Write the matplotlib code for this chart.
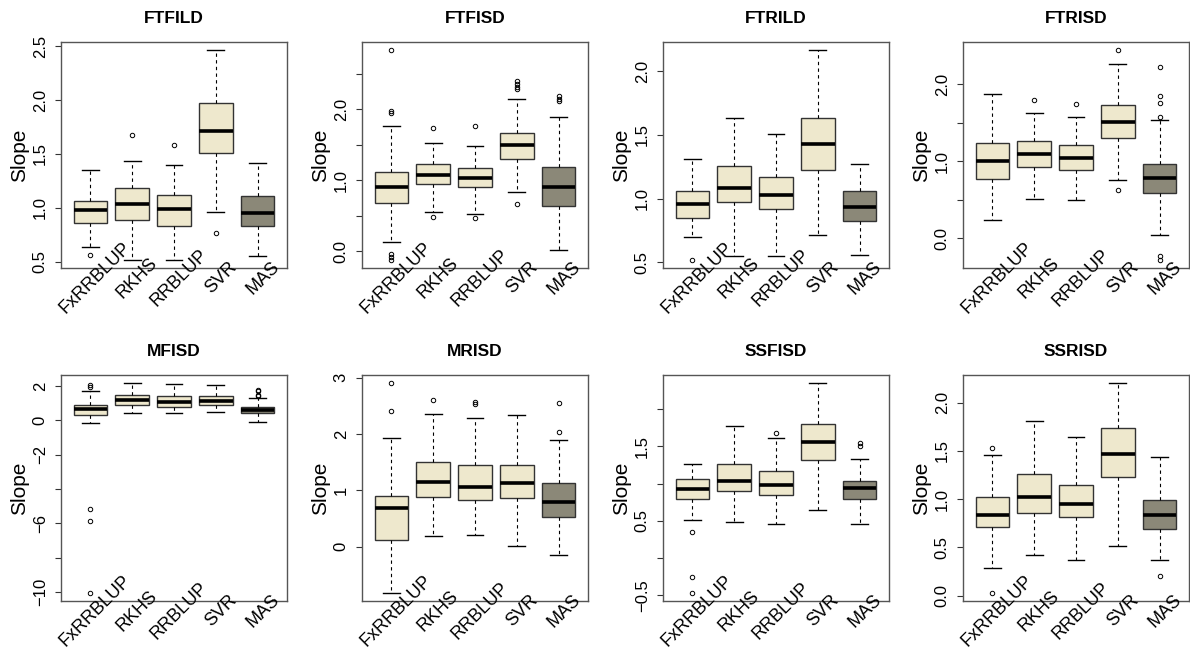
import matplotlib.pyplot as plt
from matplotlib.transforms import blended_transform_factory, ScaledTranslation

plt.rcParams['font.family'] = ['Liberation Sans', 'DejaVu Sans']

methods = ['FxRRBLUP', 'RKHS', 'RRBLUP', 'SVR', 'MAS']
fills = ['#EEE8CD', '#EEE8CD', '#EEE8CD', '#EEE8CD', '#8B8878']

# box stats per method: (lower whisker, q1, median, q3, upper whisker)
FTFILD_box = [(0.64, 0.86, 0.98, 1.06, 1.35), (0.52, 0.89, 1.04, 1.18, 1.43),
              (0.52, 0.83, 0.99, 1.12, 1.40), (0.96, 1.51, 1.71, 1.97, 2.46),
              (0.55, 0.83, 0.955, 1.11, 1.42)]
FTFILD_out = [[0.56], [1.68], [1.58], [0.77], []]

FTFISD_box = [(0.13, 0.68, 0.91, 1.12, 1.76), (0.55, 0.94, 1.08, 1.23, 1.53),
              (0.53, 0.90, 1.03, 1.17, 1.48), (0.83, 1.30, 1.50, 1.67, 2.15),
              (0.01, 0.63, 0.90, 1.18, 1.89)]
FTFISD_out = [[2.83, 1.97, 1.95, -0.04, -0.08, -0.12], [1.73, 0.48], [1.77, 0.47],
              [2.40, 2.36, 2.32, 2.28, 0.66], [2.19, 2.15, 2.12]]

FTRILD_box = [(0.70, 0.85, 0.96, 1.06, 1.31), (0.545, 0.97, 1.08, 1.255, 1.63),
              (0.545, 0.92, 1.03, 1.17, 1.51), (0.715, 1.225, 1.43, 1.63, 2.165),
              (0.555, 0.82, 0.93, 1.06, 1.27)]
FTRILD_out = [[0.52], [], [], [], []]

FTRISD_box = [(0.24, 0.77, 1.00, 1.24, 1.87), (0.51, 0.92, 1.09, 1.26, 1.63),
              (0.50, 0.89, 1.045, 1.21, 1.57), (0.76, 1.30, 1.51, 1.73, 2.26),
              (0.04, 0.58, 0.78, 0.96, 1.53)]
FTRISD_out = [[], [1.80], [1.74], [2.44, 0.63], [2.22, 1.85, 1.76, 1.57, -0.23, -0.28]]

MFISD_box = [(-0.14, 0.31, 0.64, 0.89, 1.69), (0.41, 0.89, 1.19, 1.48, 2.16),
             (0.43, 0.80, 1.09, 1.42, 2.14), (0.49, 0.87, 1.11, 1.42, 2.08),
             (-0.12, 0.41, 0.60, 0.80, 1.30)]
MFISD_out = [[2.08, 1.96, -5.17, -5.89, -10.04], [], [], [], [1.79, 1.71, 1.46, 1.40]]

MRISD_box = [(-0.82, 0.12, 0.68, 0.90, 1.92), (0.18, 0.88, 1.155, 1.51, 2.36),
             (0.20, 0.82, 1.06, 1.445, 2.28), (0.01, 0.855, 1.125, 1.44, 2.33),
             (-0.15, 0.53, 0.79, 1.125, 1.90)]
MRISD_out = [[2.90, 2.41], [2.60], [2.56, 2.53], [], [2.55, 2.03]]

SSFISD_box = [(0.51, 0.79, 0.92, 1.055, 1.26), (0.49, 0.90, 1.04, 1.26, 1.77),
              (0.46, 0.85, 0.975, 1.17, 1.615), (0.65, 1.315, 1.555, 1.80, 2.345),
              (0.46, 0.79, 0.945, 1.035, 1.33)]
SSFISD_out = [[0.35, -0.26, -0.465], [], [1.68], [], [1.55, 1.50]]

SSRISD_box = [(0.29, 0.71, 0.84, 1.02, 1.46), (0.42, 0.86, 1.02, 1.26, 1.81),
              (0.37, 0.81, 0.95, 1.15, 1.64), (0.51, 1.23, 1.47, 1.74, 2.20),
              (0.37, 0.69, 0.83, 0.99, 1.44)]
SSRISD_out = [[1.53, 0.03], [], [], [], [0.20]]

# y axis ticks (R skips some labels)
FTFILD_ticks = [0.5, 1.0, 1.5, 2.0, 2.5]
FTFILD_labels = ['0.5', '1.0', '1.5', '2.0', '2.5']
FTFISD_ticks = [0.0, 0.5, 1.0, 1.5, 2.0, 2.5]
FTFISD_labels = ['0.0', '', '1.0', '', '2.0', '']
FTRILD_ticks = [0.5, 1.0, 1.5, 2.0]
FTRILD_labels = ['0.5', '1.0', '1.5', '2.0']
FTRISD_ticks = [0.0, 0.5, 1.0, 1.5, 2.0]
FTRISD_labels = ['0.0', '', '1.0', '', '2.0']
MFISD_ticks = [-10, -8, -6, -4, -2, 0, 2]
MFISD_labels = ['\u221210', '', '\u22126', '', '\u22122', '0', '2']
MRISD_ticks = [0, 1, 2, 3]
MRISD_labels = ['0', '1', '2', '3']
SSFISD_ticks = [-0.5, 0.0, 0.5, 1.0, 1.5, 2.0]
SSFISD_labels = ['\u22120.5', '', '0.5', '', '1.5', '']
SSRISD_ticks = [0.0, 0.5, 1.0, 1.5, 2.0]
SSRISD_labels = ['0.0', '0.5', '1.0', '1.5', '2.0']

panels = [
    ('FTFILD', FTFILD_box, FTFILD_out, FTFILD_ticks, FTFILD_labels),
    ('FTFISD', FTFISD_box, FTFISD_out, FTFISD_ticks, FTFISD_labels),
    ('FTRILD', FTRILD_box, FTRILD_out, FTRILD_ticks, FTRILD_labels),
    ('FTRISD', FTRISD_box, FTRISD_out, FTRISD_ticks, FTRISD_labels),
    ('MFISD', MFISD_box, MFISD_out, MFISD_ticks, MFISD_labels),
    ('MRISD', MRISD_box, MRISD_out, MRISD_ticks, MRISD_labels),
    ('SSFISD', SSFISD_box, SSFISD_out, SSFISD_ticks, SSFISD_labels),
    ('SSRISD', SSRISD_box, SSRISD_out, SSRISD_ticks, SSRISD_labels),
]

fig = plt.figure(figsize=(11.9, 6.5), dpi=100)
lefts = [61, 362, 663, 963]
tops = [42, 375]
W, H = 226, 226

for k, (title, boxes, outs, ticks, labels) in enumerate(panels):
    r, c = divmod(k, 4)
    ax = fig.add_axes([lefts[c] / 1190, 1 - (tops[r] + H) / 650, W / 1190, H / 650])
    stats = [dict(whislo=b[0], q1=b[1], med=b[2], q3=b[3], whishi=b[4], fliers=o)
             for b, o in zip(boxes, outs)]
    bp = ax.bxp(stats, positions=range(1, 6), widths=0.8, patch_artist=True,
                boxprops=dict(edgecolor='#333333', linewidth=1.0),
                medianprops=dict(color='black', linewidth=2.6, solid_capstyle='butt'),
                whiskerprops=dict(color='black', linewidth=0.8, linestyle=(0, (3, 3))),
                capprops=dict(color='black', linewidth=1.0),
                flierprops=dict(marker='o', markersize=3.2, markerfacecolor='none',
                                markeredgecolor='black', markeredgewidth=0.7))
    for patch, fc in zip(bp['boxes'], fills):
        patch.set_facecolor(fc)
    ax.set_xlim(0.3, 5.7)
    ax.margins(y=0.04)
    ax.set_xticks([])
    ax.set_yticks(ticks)
    ax.set_yticklabels(labels, rotation=90, va='center')
    ax.tick_params(axis='y', length=4.5, width=0.8, pad=5, labelsize=12, color='#333333')
    for sp in ax.spines.values():
        sp.set_color('#555555')
        sp.set_linewidth(1.0)

    trans = blended_transform_factory(ax.transData, ax.transAxes) + \
        ScaledTranslation(5 / 100, 0, fig.dpi_scale_trans)
    for i, m in enumerate(methods, 1):
        ax.text(i, -0.045, m, transform=trans, rotation=45, ha='center', va='center',
                rotation_mode='anchor', fontsize=13, clip_on=False)

    ax.set_ylabel('Slope', fontsize=15)
    ax.yaxis.set_label_coords(-0.14, 0.5)
    ax.set_title(title, fontsize=12.5, fontweight='bold', pad=14)

fig.savefig('out.png', dpi=100)
